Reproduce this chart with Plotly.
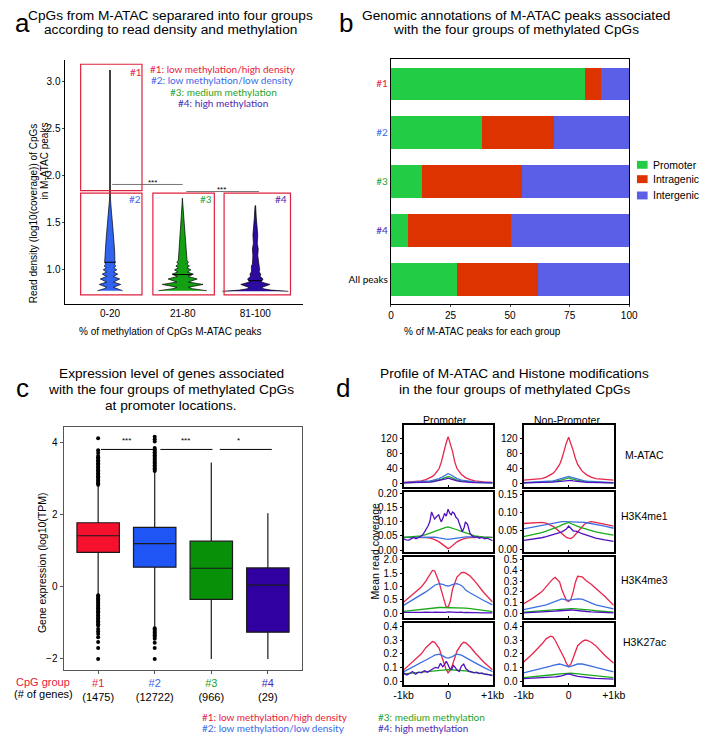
import numpy as np
import plotly.graph_objects as go

W, H = 709, 738
OFF = 8            # the page body adds an 8px margin
FW, FH = W - OFF, H - OFF

# ======================= DATA =======================
# ---- panel a : violins of read density per methylation class ----
meth_labels = ["0-20", "21-80", "81-100"]
g2_level = [0.778, 0.80, 0.815, 0.845, 0.87, 0.903, 0.93, 0.954, 0.977, 1.0, 1.02, 1.041, 1.06, 1.079, 1.1, 1.2, 1.3, 1.4, 1.5, 1.6, 1.7, 1.76]
g2_dens = [13, 6, 3.5, 11, 3.5, 10, 3.5, 8, 3.5, 7, 4, 6, 4.5, 5.5, 5, 4.8, 4.2, 3.4, 2.5, 1.6, 0.8, 0.4]
g1_span = [1.76, 3.12]
g3_level = [0.778, 0.80, 0.815, 0.845, 0.87, 0.903, 0.93, 0.954, 0.977, 1.0, 1.02, 1.041, 1.06, 1.079, 1.1, 1.2, 1.3, 1.4, 1.5, 1.6, 1.7, 1.76]
g3_dens = [25, 10, 6, 21, 6, 15, 5.5, 11, 5, 8.5, 4.5, 7, 4.2, 6, 4.5, 3.8, 3, 2.2, 1.6, 1.1, 0.6, 0.3]
g4_level = [0.772, 0.785, 0.80, 0.815, 0.845, 0.87, 0.903, 0.93, 0.954, 0.98, 1.0, 1.041, 1.06, 1.1, 1.15, 1.22, 1.28, 1.37, 1.45, 1.55, 1.68]
g4_dens = [34, 16, 8, 7, 15, 6, 8, 5, 5.5, 4, 4.5, 4, 3, 2.8, 2.5, 3, 2, 2.5, 1.5, 1, 0.3]
violin_medians = [1.08, 0.95, 0.885]
frames_a = [(0.596, 1.44, 1.839, 3.18), (0.596, 1.44, 0.734, 1.814),
            (1.59, 2.436, 0.734, 1.814), (2.57, 3.484, 0.734, 1.814)]

# ---- panel b : genomic annotation percentages ----
groups_b = ["#1", "#2", "#3", "#4", "All peaks"]
promoter_pct = [81.5, 38.2, 12.9, 7.0, 27.9]
intragenic_pct = [6.6, 30.2, 42.1, 43.3, 34.0]
intergenic_pct = [11.9, 31.6, 45.0, 49.7, 38.1]

# ---- panel c : expression box plots ----
groups_c = ["#1", "#2", "#3", "#4"]
n_genes = [1475, 12722, 966, 29]
c_q1 = [0.95, 0.54, -0.35, -1.26]
c_median = [1.41, 1.19, 0.51, 0.04]
c_q3 = [1.77, 1.64, 1.26, 0.52]
c_lower = [-0.21, -1.12, -2.0, -2.0]
c_upper = [2.80, 3.17, 3.44, 2.03]
c1_outliers = [4.11, 3.78, 3.70, 3.62, 3.58, 3.54, 3.50, 3.46, 3.42, 3.38, 3.34, 3.30, 3.26, 3.22,
               3.18, 3.14, 3.10, 3.06, 3.02, 2.98, 2.94, 2.90, 2.86, 2.82,
               -0.24, -0.28, -0.32, -0.36, -0.40, -0.44, -0.48, -0.52, -0.56, -0.60, -0.64, -0.68,
               -0.72, -0.76, -0.80, -0.84, -0.88, -0.92, -0.96, -1.00, -1.04, -1.08,
               -1.17, -1.24, -1.31, -1.40, -1.53, -1.70, -2.00]
c2_outliers = [4.15, 4.08, 4.02, 3.84, 3.80, 3.76, 3.72, 3.68, 3.64, 3.60, 3.56, 3.52, 3.48, 3.44,
               3.40, 3.36, 3.32, 3.28, 3.24, 3.20,
               -1.15, -1.19, -1.23, -1.27, -1.31, -1.35, -1.39, -1.44, -1.55, -1.70, -2.00]

# ---- panel d : profiles (x in kb) ----
prof_x = [-1, -0.8, -0.6, -0.5, -0.4, -0.35, -0.3, -0.2, -0.15, -0.1, -0.05, 0,
          0.05, 0.1, 0.15, 0.2, 0.3, 0.35, 0.4, 0.5, 0.6, 0.8, 1]
atac_p_red = [2, 3, 6, 9, 14, 18, 23, 39, 57, 85, 105, 125, 105, 85, 57, 39, 23, 18, 14, 9, 6, 3, 2]
atac_p_blue = [1, 2, 3, 4, 6, 7, 8, 12, 15, 19, 23, 25, 23, 19, 15, 12, 8, 7, 6, 4, 3, 2, 1]
atac_p_green = [0.5, 1, 2, 3, 4, 5, 6, 8, 10, 13, 16, 17, 16, 13, 10, 8, 6, 5, 4, 3, 2, 1, 0.5]
atac_p_purple = [0.3, 0.5, 1, 1.5, 2.5, 3, 4, 6, 7, 9, 11, 13, 11, 9, 7, 6, 4, 3, 2.5, 1.5, 1, 0.5, 0.3]
atac_n_red = [8, 9, 12, 16, 22, 26, 32, 50, 66, 88, 108, 123, 108, 88, 66, 50, 32, 26, 22, 16, 12, 10, 8]
atac_n_blue = [1, 2, 3, 4, 5, 6, 7, 10, 12, 14, 16, 18, 16, 14, 12, 10, 7, 6, 5, 4, 3, 2, 1]
atac_n_green = [0.5, 1, 2, 3, 4, 4.5, 5, 7, 8.5, 10, 12, 14, 12, 10, 8.5, 7, 5, 4.5, 4, 3, 2, 1, 0.5]
atac_n_purple = [0.3, 0.5, 1, 1.5, 2, 2.5, 3, 4, 5, 6, 7, 8, 7, 6, 5, 4, 3, 2.5, 2, 1.5, 1, 0.5, 0.3]

me1_p_red = [0.045, 0.045, 0.045, 0.044, 0.042, 0.04, 0.037, 0.029, 0.023, 0.016, 0.009, 0.005, 0.009, 0.016, 0.023, 0.029, 0.037, 0.04, 0.042, 0.044, 0.045, 0.045, 0.045]
me1_p_blue = [0.045, 0.045, 0.046, 0.047, 0.047, 0.047, 0.046, 0.043, 0.041, 0.04, 0.039, 0.038, 0.039, 0.04, 0.041, 0.043, 0.046, 0.047, 0.047, 0.047, 0.046, 0.045, 0.045]
me1_p_green = [0.045, 0.047, 0.05, 0.055, 0.061, 0.063, 0.066, 0.072, 0.075, 0.078, 0.08, 0.082, 0.08, 0.078, 0.075, 0.072, 0.066, 0.063, 0.06, 0.054, 0.05, 0.046, 0.044]
me1_p_purple_x = [-1, -0.94, -0.88, -0.82, -0.77, -0.72, -0.66, -0.6, -0.55, -0.5, -0.45, -0.41, -0.37, -0.33, -0.3,
                  -0.25, -0.21, -0.18, -0.15, -0.11, -0.08, -0.04, 0, 0.04, 0.07, 0.1, 0.14, 0.18, 0.22, 0.25,
                  0.29, 0.32, 0.36, 0.39, 0.44, 0.49, 0.54, 0.6, 0.65, 0.7, 0.76, 0.82, 0.88, 0.94, 1]
me1_p_purple = [0.040, 0.036, 0.035, 0.042, 0.045, 0.040, 0.044, 0.05, 0.058, 0.07, 0.085, 0.10, 0.135, 0.12, 0.11,
                0.12, 0.125, 0.11, 0.10, 0.115, 0.13, 0.12, 0.145, 0.13, 0.125, 0.135, 0.13, 0.115, 0.11, 0.095,
                0.08, 0.065, 0.08, 0.10, 0.09, 0.06, 0.05, 0.045, 0.048, 0.042, 0.045, 0.04, 0.042, 0.036, 0.033]
me1_n_red = [0.07, 0.072, 0.073, 0.071, 0.066, 0.062, 0.058, 0.047, 0.042, 0.037, 0.032, 0.03, 0.029, 0.033, 0.04, 0.046, 0.062, 0.068, 0.072, 0.075, 0.073, 0.068, 0.063]
me1_n_blue = [0.055, 0.06, 0.065, 0.068, 0.07, 0.071, 0.072, 0.074, 0.075, 0.075, 0.075, 0.075, 0.075, 0.075, 0.075, 0.075, 0.074, 0.073, 0.072, 0.07, 0.068, 0.063, 0.057]
me1_n_green = [0.034, 0.039, 0.045, 0.049, 0.053, 0.056, 0.058, 0.063, 0.066, 0.068, 0.071, 0.073, 0.07, 0.067, 0.064, 0.062, 0.058, 0.056, 0.054, 0.05, 0.047, 0.042, 0.038]
me1_n_purple = [0.024, 0.027, 0.031, 0.034, 0.037, 0.039, 0.04, 0.045, 0.047, 0.05, 0.055, 0.063, 0.055, 0.05, 0.049, 0.048, 0.042, 0.04, 0.037, 0.033, 0.03, 0.025, 0.021]

me3_p_red = [0.42, 0.7, 0.98, 1.2, 1.5, 1.6, 1.58, 1.15, 0.85, 0.5, 0.27, 0.22, 0.45, 0.9, 1.15, 1.35, 1.52, 1.53, 1.5, 1.38, 1.2, 0.78, 0.42]
me3_p_blue = [0.3, 0.5, 0.68, 0.8, 0.92, 0.98, 1.05, 1.11, 1.1, 1.07, 1.03, 1.02, 1.04, 1.08, 1.1, 1.11, 1.04, 0.96, 0.86, 0.76, 0.66, 0.48, 0.32]
me3_p_green = [0.08, 0.12, 0.16, 0.18, 0.2, 0.21, 0.21, 0.22, 0.22, 0.22, 0.22, 0.22, 0.22, 0.22, 0.22, 0.22, 0.21, 0.2, 0.2, 0.18, 0.16, 0.11, 0.07]
me3_p_purple = [0.04, 0.03, 0.04, 0.05, 0.03, 0.04, 0.05, 0.04, 0.06, 0.05, 0.04, 0.06, 0.05, 0.04, 0.05, 0.04, 0.05, 0.03, 0.04, 0.03, 0.03, 0.02, 0.02]
me3_n_red = [0.09, 0.14, 0.2, 0.25, 0.3, 0.32, 0.335, 0.29, 0.22, 0.16, 0.12, 0.11, 0.13, 0.2, 0.29, 0.345, 0.34, 0.32, 0.3, 0.27, 0.235, 0.16, 0.075]
me3_n_blue = [0.036, 0.05, 0.07, 0.08, 0.095, 0.105, 0.115, 0.13, 0.135, 0.13, 0.125, 0.122, 0.125, 0.13, 0.135, 0.135, 0.133, 0.125, 0.115, 0.095, 0.08, 0.06, 0.042]
me3_n_green = [0.012, 0.018, 0.025, 0.03, 0.034, 0.036, 0.038, 0.042, 0.043, 0.044, 0.045, 0.046, 0.045, 0.044, 0.043, 0.042, 0.038, 0.036, 0.034, 0.03, 0.025, 0.018, 0.012]
me3_n_purple = [0.005, 0.008, 0.012, 0.015, 0.018, 0.02, 0.022, 0.025, 0.027, 0.03, 0.032, 0.035, 0.032, 0.03, 0.027, 0.025, 0.022, 0.02, 0.018, 0.015, 0.012, 0.008, 0.005]

k27_p_red = [0.08, 0.14, 0.2, 0.245, 0.275, 0.29, 0.285, 0.24, 0.19, 0.14, 0.09, 0.06, 0.08, 0.12, 0.18, 0.22, 0.27, 0.285, 0.28, 0.25, 0.21, 0.14, 0.08]
k27_p_blue = [0.067, 0.1, 0.135, 0.155, 0.17, 0.18, 0.19, 0.198, 0.19, 0.18, 0.172, 0.168, 0.172, 0.18, 0.19, 0.198, 0.19, 0.18, 0.17, 0.155, 0.135, 0.1, 0.068]
k27_p_green = [0.053, 0.06, 0.066, 0.07, 0.074, 0.076, 0.078, 0.08, 0.081, 0.082, 0.083, 0.083, 0.083, 0.082, 0.081, 0.08, 0.078, 0.076, 0.074, 0.068, 0.062, 0.052, 0.044]
k27_p_purple_x = [-1, -0.93, -0.86, -0.8, -0.73, -0.66, -0.6, -0.53, -0.46, -0.4, -0.34, -0.28, -0.22, -0.17, -0.12, -0.08, -0.04,
                  0, 0.04, 0.08, 0.12, 0.16, 0.2, 0.25, 0.3, 0.35, 0.4, 0.46, 0.52, 0.58, 0.64, 0.7, 0.76, 0.82, 0.88, 0.94, 1]
k27_p_purple = [0.06, 0.045, 0.055, 0.07, 0.05, 0.065, 0.06, 0.075, 0.065, 0.08, 0.09, 0.1, 0.095, 0.13, 0.105, 0.12, 0.145,
                0.12, 0.09, 0.085, 0.115, 0.1, 0.08, 0.07, 0.11, 0.125, 0.09, 0.075, 0.07, 0.06, 0.065, 0.055, 0.06, 0.05, 0.048, 0.045, 0.04]
k27_n_red = [0.14, 0.2, 0.27, 0.31, 0.33, 0.325, 0.3, 0.24, 0.21, 0.17, 0.13, 0.105, 0.125, 0.17, 0.23, 0.26, 0.29, 0.3, 0.3, 0.285, 0.26, 0.19, 0.13]
k27_n_blue = [0.06, 0.075, 0.09, 0.1, 0.11, 0.115, 0.12, 0.125, 0.12, 0.113, 0.107, 0.105, 0.108, 0.115, 0.12, 0.125, 0.125, 0.122, 0.118, 0.11, 0.1, 0.085, 0.067]
k27_n_green = [0.025, 0.03, 0.036, 0.04, 0.044, 0.046, 0.048, 0.052, 0.054, 0.056, 0.058, 0.06, 0.058, 0.056, 0.054, 0.052, 0.048, 0.046, 0.044, 0.04, 0.036, 0.03, 0.025]
k27_n_purple = [0.018, 0.02, 0.022, 0.024, 0.026, 0.028, 0.03, 0.035, 0.038, 0.042, 0.048, 0.053, 0.048, 0.042, 0.038, 0.034, 0.03, 0.027, 0.025, 0.022, 0.019, 0.016, 0.014]

row_names = ["M-ATAC", "H3K4me1", "H3K4me3", "H3K27ac"]
col_names = ["Promoter", "Non-Promoter"]

# ======================= STYLE =======================
RED, BLUE, GREEN, PURPLE = "#e8203a", "#3a68e8", "#1fa21f", "#4b1fb0"
V_COL = ["#2f63f0", "#13a013", "#2d0aa0"]
BOX_COL = ["#f5102e", "#1f55f5", "#089008", "#3000a0"]
D_COL = {"red": "#e8254a", "blue": "#3c6fe0", "green": "#1aaa1a", "purple": "#5010c0"}
B_COL = ["#22cc44", "#dd3300", "#5b5ee6"]
SANS = "Liberation Sans"
MYR = "Lato"
TS = 13.7  # title size

fig = go.Figure()
ann = []
shapes = []


def PX(x):
    return (x - OFF) / FW


def PY(y):
    return 1 - (y - OFF) / FH


def text(t, x, y, size=10, color="black", xa="center", ya="middle", angle=0, family=SANS):
    ann.append(dict(text=t, x=PX(x), y=PY(y), xref="paper", yref="paper", showarrow=False,
                    font=dict(size=size, color=color, family=family), xanchor=xa, yanchor=ya,
                    textangle=angle))


def dom_x(a, b):
    return [PX(a), PX(b)]


def dom_y(top, bottom):
    return [PY(bottom), PY(top)]


# ======================= PANEL a =======================
VSCALE = 1 / 75.0
for i, (lev, den) in enumerate([(g2_level, g2_dens), (g3_level, g3_dens), (g4_level, g4_dens)]):
    c = i + 1
    xs = [c + d * VSCALE for d in den] + [c - d * VSCALE for d in den[::-1]]
    ys = list(lev) + list(lev[::-1])
    fig.add_trace(go.Scatter(x=xs, y=ys, fill="toself", fillcolor=V_COL[i], mode="lines",
                             line=dict(color="black", width=0.7), xaxis="x", yaxis="y",
                             showlegend=False, hoverinfo="skip"))
    w = float(np.interp(violin_medians[i], lev, den)) * VSCALE
    fig.add_trace(go.Scatter(x=[c - w, c + w], y=[violin_medians[i]] * 2, mode="lines",
                             line=dict(color="black", width=1), xaxis="x", yaxis="y",
                             showlegend=False, hoverinfo="skip"))
fig.add_trace(go.Scatter(x=[1, 1], y=g1_span, mode="lines", line=dict(color="black", width=1.5),
                         xaxis="x", yaxis="y", showlegend=False, hoverinfo="skip"))
fig.add_trace(go.Scatter(x=[1.03, 2.0], y=[1.905, 1.905], mode="lines", line=dict(color="#777", width=1),
                         xaxis="x", yaxis="y", showlegend=False, hoverinfo="skip"))
fig.add_trace(go.Scatter(x=[2.05, 3.05], y=[1.83, 1.83], mode="lines", line=dict(color="#777", width=1),
                         xaxis="x", yaxis="y", showlegend=False, hoverinfo="skip"))
for (x0, x1, y0, y1) in frames_a:
    shapes.append(dict(type="rect", xref="x", yref="y", x0=x0, x1=x1, y0=y0, y1=y1,
                       line=dict(color="#e0203c", width=1.2)))

text("a", 13, 19, size=26)
text("CpGs from M-ATAC separared into four groups", 165, 11.5, size=TS)
text("according to read density and methylation", 165, 25.5, size=TS)
text("#1: low methylation/high density", 220, 66, size=10, color=RED, family=MYR)
text("#2: low methylation/low density", 219, 77, size=10, color=BLUE, family=MYR)
text("#3: medium methylation", 220, 89, size=10, color=GREEN, family=MYR)
text("#4: high methylation", 220, 100, size=10, color=PURPLE, family=MYR)
text("#1", 130, 69, size=10, color=RED, family=MYR)
text("#2", 129, 197, size=10, color=BLUE, family=MYR)
text("#3", 202, 197, size=10, color=GREEN, family=MYR)
text("#4", 280, 197, size=10, color=PURPLE, family=MYR)
text("***", 147, 180, size=8)
text("***", 218, 187, size=8)
text("Read density (log10(coverage)) of CpGs", 24, 118, size=10, angle=-90, ya="top")
text("in M-ATAC peaks", 35, 118, size=10, angle=-90, ya="top")
text("% of methylation of CpGs M-ATAC peaks", 165, 331, size=10)

# ======================= PANEL b =======================
for vals, name, col in [(promoter_pct, "Promoter", B_COL[0]), (intragenic_pct, "Intragenic", B_COL[1]),
                        (intergenic_pct, "Intergenic", B_COL[2])]:
    fig.add_trace(go.Bar(x=vals, y=groups_b, orientation="h", name=name, marker=dict(color=col, line=dict(width=0)),
                         xaxis="x2", yaxis="y2", showlegend=False, hoverinfo="skip"))
for i, (name, col) in enumerate(zip(["Promoter", "Intragenic", "Intergenic"], B_COL)):
    yc = [162.5, 177, 193.5][i]
    shapes.append(dict(type="rect", xref="paper", yref="paper", x0=PX(647), x1=PX(658),
                       y0=PY(yc + 4), y1=PY(yc - 4), fillcolor=col, line=dict(width=0)))
    text(name, 662, yc, size=10.5, xa="left")

text("b", 347, 19, size=26)
text("Genomic annotations of M-ATAC peaks associated", 522, 11.5, size=TS)
text("with the four groups of methylated CpGs", 522, 25.5, size=TS)
text("% of M-ATAC peaks for each group", 488, 331, size=10)

# ======================= PANEL c =======================
for i in range(4):
    fig.add_trace(go.Box(x=[i + 1], q1=[c_q1[i]], median=[c_median[i]], q3=[c_q3[i]],
                         lowerfence=[c_lower[i]], upperfence=[c_upper[i]], width=0.75,
                         fillcolor=BOX_COL[i], line=dict(color="#1a1a1a", width=1.2), whiskerwidth=0,
                         boxpoints=False, xaxis="x3", yaxis="y3", showlegend=False, hoverinfo="skip"))
fig.add_trace(go.Scatter(x=[1] * len(c1_outliers), y=c1_outliers, mode="markers",
                         marker=dict(color="black", size=4), xaxis="x3", yaxis="y3", showlegend=False,
                         hoverinfo="skip"))
fig.add_trace(go.Scatter(x=[2] * len(c2_outliers), y=c2_outliers, mode="markers",
                         marker=dict(color="black", size=4), xaxis="x3", yaxis="y3", showlegend=False,
                         hoverinfo="skip"))
for (x0, x1) in [(1.05, 1.97), (2.1, 3.02), (3.15, 4.07)]:
    fig.add_trace(go.Scatter(x=[x0, x1], y=[3.8, 3.8], mode="lines", line=dict(color="black", width=1),
                             xaxis="x3", yaxis="y3", showlegend=False, hoverinfo="skip"))

text("c", 13, 388, size=26)
text("Expression level of genes associated", 166, 374, size=TS)
text("with the four groups of methylated CpGs", 166, 390, size=TS)
text("at promoter locations.", 166, 406, size=TS)
text("***", 120, 441, size=8)
text("***", 181, 441, size=8)
text("*", 236, 441, size=8)
text("Gene expression (log10(TPM)", 33, 565, size=10.5, angle=-90)
text("CpG group", 34, 685, size=11, color="#e8203a")
text("(# of genes)", 34, 698, size=11)
text("#1: low methylation/high density", 196, 721, size=10, color=RED, xa="left", family=MYR)
text("#2: low methylation/low density", 196, 731.5, size=10, color=BLUE, xa="left", family=MYR)
text("#3: medium methylation", 378, 721, size=10, color=GREEN, xa="left", family=MYR)
text("#4: high methylation", 378, 731.5, size=10, color=PURPLE, xa="left", family=MYR)

# ======================= PANEL d =======================
d_cols = [(406, 498), (530, 623)]
d_rows = [(426, 488), (493, 554), (559, 621), (626, 688)]
d_ranges = [[(-10, 155), (-10, 155)], [(-0.007, 0.207), (-0.008, 0.157)],
            [(-0.18, 2.1), (-0.045, 0.524)], [(-0.026, 0.425), (-0.026, 0.425)]]
d_ticks = [[[0, 40, 80, 120], [0, 40, 80, 120]],
           [[0, 0.05, 0.10, 0.15, 0.20], [0, 0.05, 0.10, 0.15]],
           [[0, 0.5, 1.0, 1.5, 2.0], [0, 0.1, 0.2, 0.3, 0.4, 0.5]],
           [[0, 0.1, 0.2, 0.3, 0.4], [0, 0.1, 0.2, 0.3, 0.4]]]
d_fmt = ["d", ".2f", ".1f", ".1f"]
d_data = [
    [[(prof_x, atac_p_red, "red"), (prof_x, atac_p_green, "green"), (prof_x, atac_p_blue, "blue"), (prof_x, atac_p_purple, "purple")],
     [(prof_x, atac_n_red, "red"), (prof_x, atac_n_green, "green"), (prof_x, atac_n_blue, "blue"), (prof_x, atac_n_purple, "purple")]],
    [[(prof_x, me1_p_red, "red"), (prof_x, me1_p_blue, "blue"), (prof_x, me1_p_green, "green"), (me1_p_purple_x, me1_p_purple, "purple")],
     [(prof_x, me1_n_red, "red"), (prof_x, me1_n_blue, "blue"), (prof_x, me1_n_green, "green"), (prof_x, me1_n_purple, "purple")]],
    [[(prof_x, me3_p_red, "red"), (prof_x, me3_p_blue, "blue"), (prof_x, me3_p_green, "green"), (prof_x, me3_p_purple, "purple")],
     [(prof_x, me3_n_red, "red"), (prof_x, me3_n_blue, "blue"), (prof_x, me3_n_green, "green"), (prof_x, me3_n_purple, "purple")]],
    [[(prof_x, k27_p_red, "red"), (prof_x, k27_p_blue, "blue"), (prof_x, k27_p_green, "green"), (k27_p_purple_x, k27_p_purple, "purple")],
     [(prof_x, k27_n_red, "red"), (prof_x, k27_n_blue, "blue"), (prof_x, k27_n_green, "green"), (prof_x, k27_n_purple, "purple")]],
]

layout_axes = {}
for r in range(4):
    for c in range(2):
        idx = 4 + r * 2 + c
        xa, ya = f"x{idx}", f"y{idx}"
        for (xs, ys, col) in d_data[r][c]:
            fig.add_trace(go.Scatter(x=xs, y=ys, mode="lines", line=dict(color=D_COL[col], width=1.3),
                                     xaxis=xa, yaxis=ya, showlegend=False, hoverinfo="skip"))
        layout_axes[f"xaxis{idx}"] = dict(
            domain=dom_x(*d_cols[c]), range=[-1, 1], anchor=ya, showgrid=False, zeroline=False,
            showline=True, mirror=True, linecolor="black", linewidth=2,
            tickvals=[-1, 0, 1], ticktext=["-1kb", "0", "+1kb"], ticks="inside", ticklen=2,
            tickcolor="black", showticklabels=(r == 3), tickfont=dict(size=10.5, family=SANS, color="black"))
        layout_axes[f"yaxis{idx}"] = dict(
            domain=dom_y(*d_rows[r]), range=list(d_ranges[r][c]), anchor=xa, showgrid=False,
            zeroline=False, showline=True, mirror=True, linecolor="black", linewidth=2,
            tickvals=d_ticks[r][c], tickformat=d_fmt[r], ticks="outside", ticklen=2, tickcolor="black",
            tickfont=dict(size=10, family=SANS, color="black"))

text("d", 344, 388, size=26)
text("Profile of M-ATAC and Histone modifications", 521, 374, size=TS)
text("in the four groups of methylated CpGs", 521, 390, size=TS)
text(col_names[0], 449, 421, size=10.5)
text(col_names[1], 575, 421, size=10.5)
for r, nm in enumerate(row_names):
    text(nm, 655, [456, 518, 582, 645][r], size=10.5)
text("Mean read coverage", 377, 553, size=10.5, angle=-90)


def span(t, col):
    return f"<span style='color:{col}'>{t}</span>"


layout_axes.update(
    xaxis=dict(domain=dom_x(57, 302), range=[0.387, 3.653], anchor="y", tickvals=[1, 2, 3],
               ticktext=meth_labels, showline=True, linecolor="black", linewidth=1, ticks="",
               showgrid=False, zeroline=False, tickfont=dict(size=10, family=SANS, color="black")),
    yaxis=dict(domain=dom_y(57, 303), range=[0.64, 3.22], anchor="x", tickvals=[1.0, 1.5, 2.0, 2.5, 3.0],
               tickformat=".1f", showline=True, linecolor="black", linewidth=1, ticks="outside", ticklen=2,
               showgrid=False, zeroline=False, tickfont=dict(size=10, family=SANS, color="black")),
    xaxis2=dict(domain=dom_x(393, 639), range=[0, 100], anchor="y2", tickvals=[0, 25, 50, 75, 100],
                showline=True, mirror=True, linecolor="black", linewidth=1, ticks="outside", ticklen=2,
                showgrid=False, zeroline=False, tickfont=dict(size=10, family=SANS, color="black")),
    yaxis2=dict(domain=dom_y(56, 303), type="category", categoryarray=groups_b, range=[4.5, -0.5],
                anchor="x2", tickvals=groups_b,
                ticktext=[span("#1", RED), span("#2", BLUE), span("#3", GREEN), span("#4", PURPLE), "All peaks"],
                showline=True, mirror=True, linecolor="black", linewidth=1, ticks="", showgrid=False,
                zeroline=False, tickfont=dict(size=10, family=MYR, color="black")),
    xaxis3=dict(domain=dom_x(55, 301), range=[0.388, 4.6], anchor="y3", tickvals=[1, 2, 3, 4],
                ticktext=[span(g, col) + f"<br>({n})" for g, col, n in zip(groups_c, [RED, BLUE, GREEN, PURPLE], n_genes)],
                showline=True, mirror=True, linecolor="#555", linewidth=1, ticks="outside", ticklen=3,
                tickcolor="#555", showgrid=False, zeroline=False,
                tickfont=dict(size=11, family=SANS, color="black")),
    yaxis3=dict(domain=dom_y(428, 673), range=[-2.3, 4.41], anchor="x3", tickvals=[-2, 0, 2, 4],
                showline=True, mirror=True, linecolor="#555", linewidth=1, ticks="outside", ticklen=3,
                tickcolor="#555", showgrid=False, zeroline=False,
                tickfont=dict(size=10, family=SANS, color="black")),
)

fig.update_layout(
    width=FW, height=FH, autosize=False, margin=dict(l=0, r=0, t=0, b=0),
    paper_bgcolor="white", plot_bgcolor="white", barmode="stack", bargap=0.33,
    showlegend=False, annotations=ann, shapes=shapes, font=dict(family=SANS, color="black"),
    **layout_axes,
)

fig.write_html("out.html")
